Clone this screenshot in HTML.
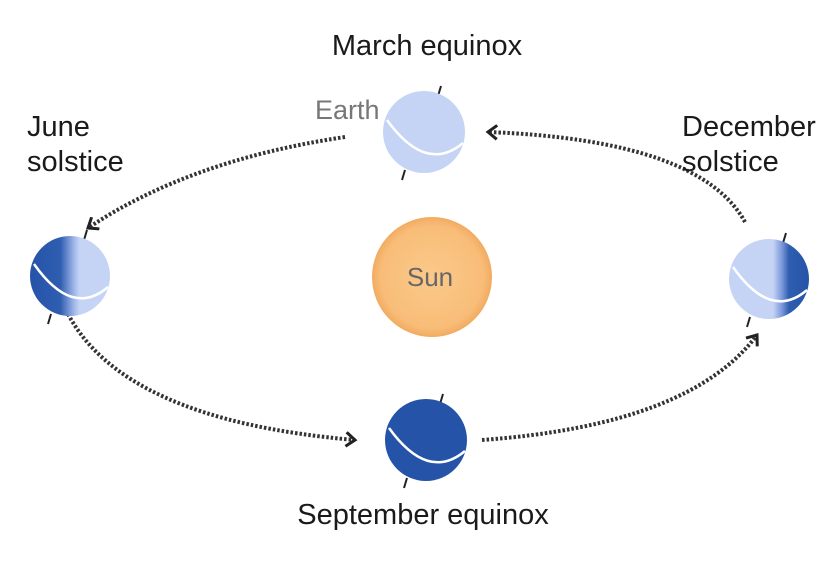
<!DOCTYPE html>
<html><head><meta charset="utf-8"><style>
html,body{margin:0;padding:0;background:#fff;}
svg{display:block;font-family:"Liberation Sans",sans-serif;}
</style></head><body>
<svg width="840" height="564" viewBox="0 0 840 564" xmlns="http://www.w3.org/2000/svg">
<defs>
<radialGradient id="sun" cx="0.5" cy="0.5" r="0.5">
<stop offset="0" stop-color="#fbc98a"/><stop offset="0.85" stop-color="#f8bd78"/><stop offset="1" stop-color="#f2ab62"/>
</radialGradient>
<linearGradient id="jun" x1="0" y1="0" x2="1" y2="0">
<stop offset="0" stop-color="#2553a8"/><stop offset="0.38" stop-color="#2f5db0"/><stop offset="0.55" stop-color="#9fb6ea"/><stop offset="0.62" stop-color="#c5d4f5"/><stop offset="1" stop-color="#c5d4f5"/>
</linearGradient>
<linearGradient id="dec" x1="0" y1="0" x2="1" y2="0">
<stop offset="0" stop-color="#c5d4f5"/><stop offset="0.55" stop-color="#c5d4f5"/><stop offset="0.66" stop-color="#7d99dc"/><stop offset="0.75" stop-color="#2f5db0"/><stop offset="1" stop-color="#2553a8"/>
</linearGradient>
<marker id="ah" markerWidth="16" markerHeight="16" refX="11" refY="8" orient="auto" markerUnits="userSpaceOnUse">
<path d="M2,1 L11,8 L2,15" fill="none" stroke="#222" stroke-width="3"/>
</marker>
</defs>

<g fill="none" stroke="#333" stroke-width="4" stroke-dasharray="2.5,2">
<path d="M345,137 Q190,160 88,228" marker-end="url(#ah)"/>
<path d="M66,310 Q120,420 355,440" marker-end="url(#ah)"/>
<path d="M482,440 Q690,425 757,335" marker-end="url(#ah)"/>
<path d="M745,222 Q700,140 488,132" marker-end="url(#ah)"/>
</g>

<circle cx="432" cy="277" r="60" fill="url(#sun)"/>
<text x="430" y="286" font-size="26" fill="#666" text-anchor="middle">Sun</text>

<g transform="translate(424,132)">
<line x1="17" y1="-46" x2="14" y2="-36" stroke="#222" stroke-width="2"/>
<line x1="-19" y1="38" x2="-22" y2="48" stroke="#222" stroke-width="2"/>
<circle r="41" fill="#c5d4f5"/>
<path d="M-37,-12 Q2,42 39,11" fill="none" stroke="#fff" stroke-width="2.5"/>
</g>
<g transform="translate(70,276)">
<line x1="17" y1="-46" x2="14" y2="-36" stroke="#222" stroke-width="2"/>
<line x1="-19" y1="38" x2="-22" y2="48" stroke="#222" stroke-width="2"/>
<circle r="40" fill="url(#jun)"/>
<path d="M-36,-12 Q2,42 38,11" fill="none" stroke="#fff" stroke-width="2.5"/>
</g>
<g transform="translate(769,279)">
<line x1="17" y1="-46" x2="14" y2="-36" stroke="#222" stroke-width="2"/>
<line x1="-19" y1="38" x2="-22" y2="48" stroke="#222" stroke-width="2"/>
<circle r="40" fill="url(#dec)"/>
<path d="M-36,-12 Q2,42 38,11" fill="none" stroke="#fff" stroke-width="2.5"/>
</g>
<g transform="translate(426,440)">
<line x1="17" y1="-46" x2="14" y2="-36" stroke="#222" stroke-width="2"/>
<line x1="-19" y1="38" x2="-22" y2="48" stroke="#222" stroke-width="2"/>
<circle r="41" fill="#2553a8"/>
<path d="M-37,-12 Q2,42 39,11" fill="none" stroke="#fff" stroke-width="2.5"/>
</g>

<g font-size="29" fill="#1a1a1a">
<text x="427" y="55" text-anchor="middle">March equinox</text>
<text x="27" y="136">June</text>
<text x="27" y="171">solstice</text>
<text x="682" y="136">December</text>
<text x="682" y="171">solstice</text>
<text x="423" y="524" text-anchor="middle">September equinox</text>
</g>
<text x="315" y="119" font-size="27" fill="#777">Earth</text>
</svg>
</body></html>
